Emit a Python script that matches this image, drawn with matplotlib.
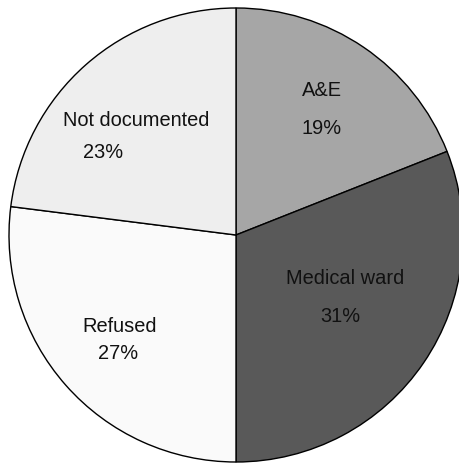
import matplotlib as mpl
import matplotlib.pyplot as plt

# where patients were seen
labels = ['A&E', 'Medical ward', 'Refused', 'Not documented']
shares = [19, 31, 27, 23]
colors = ['#a6a6a6', '#595959', '#fafafa', '#eeeeee']

mpl.rcParams['font.family'] = ['Liberation Sans', 'DejaVu Sans']

W, H = 460, 464
fig = plt.figure(figsize=(W / 100, H / 100), dpi=100)
fig.patch.set_facecolor('white')
ax = fig.add_axes([0, 0, 1, 1])

cx, cy, r = 236, H - 236, 227
ax.pie(shares, colors=colors, startangle=90, counterclock=False,
       center=(cx, cy), radius=r, frame=True,
       wedgeprops={'edgecolor': 'black', 'linewidth': 1.0})
ax.set_xlim(0, W)
ax.set_ylim(0, H)
ax.axis('off')

# label spots (pixels from top-left): name, then percent
spots = {
    'A&E':            ((322, 90), (322, 128)),
    'Medical ward':   ((345, 279), (340, 317)),
    'Refused':        ((120, 326), (118, 354)),
    'Not documented': ((136, 121), (103, 152)),
}
fd = {'fontsize': 14.4, 'color': '#111111'}
for name, val in zip(labels, shares):
    (nx, ny), (px, py) = spots[name]
    ax.text(nx, H - ny, name, ha='center', va='center', fontdict=fd)
    ax.text(px, H - py, '%d%%' % val, ha='center', va='center', fontdict=fd)

fig.savefig('out.png', dpi=100, facecolor='white')
